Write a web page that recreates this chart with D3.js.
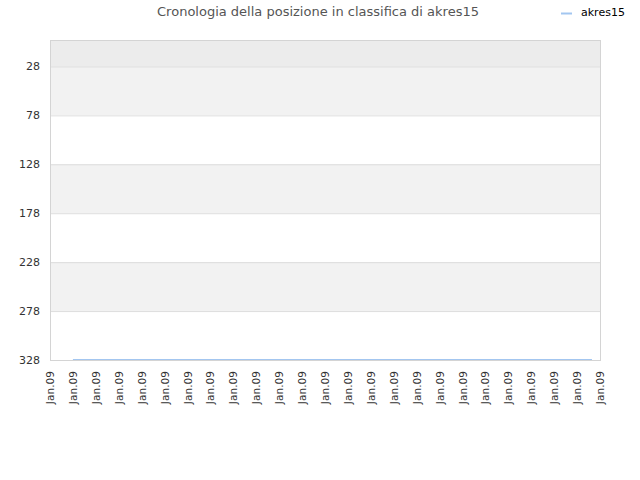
<!DOCTYPE html>
<html>
<head>
<meta charset="utf-8">
<script src="https://cdn.jsdelivr.net/npm/d3@7"></script>
<style>
  body { margin: 0; background: #fff; }
  text { font-family: "DejaVu Sans", sans-serif; }
</style>
</head>
<body>
<div id="chart"></div>
<script>
// x labels along the time axis (all the same day bucket)
const tickLabels = d3.range(25).map(() => "Jan.09");
// series: position in ranking over time (x = tick index)
const seriesX = [1, 23.65];
const seriesRank = [328, 328];
const yTicks = [28, 78, 128, 178, 228, 278, 328];
const seriesName = "akres15";
const title = "Cronologia della posizione in classifica di akres15";

const width = 640, height = 480;
const margin = { top: 40, right: 40, bottom: 120, left: 50 };
const w = width - margin.left - margin.right;
const h = height - margin.top - margin.bottom;

const svg = d3.select("#chart").append("svg")
  .attr("width", width)
  .attr("height", height);

const x = d3.scaleLinear().domain([0, tickLabels.length - 1]).range([0, w]);
const y = d3.scaleLinear().domain([1, 328]).range([0, h]);

const g = svg.append("g").attr("transform", `translate(${margin.left},${margin.top})`);

// alternating bands
const bandEdges = [1].concat(yTicks);
for (let i = 0; i < bandEdges.length - 1; i++) {
  let fill = i === 0 ? "#ececec" : (i % 2 === 1 ? "#f2f2f2" : "#ffffff");
  g.append("rect")
    .attr("x", 0)
    .attr("y", y(bandEdges[i]))
    .attr("width", w)
    .attr("height", y(bandEdges[i + 1]) - y(bandEdges[i]))
    .attr("fill", fill);
}

// grid lines
g.selectAll(".grid").data(yTicks).enter().append("line")
  .attr("x1", 0).attr("x2", w)
  .attr("y1", d => y(d) + 0.5).attr("y2", d => y(d) + 0.5)
  .attr("stroke", "#dddddd");

// frame
g.append("rect")
  .attr("x", 0.5).attr("y", 0.5)
  .attr("width", w).attr("height", h)
  .attr("fill", "none")
  .attr("stroke", "#d4d4d4");

// y labels
g.selectAll(".ylab").data(yTicks).enter().append("text")
  .attr("x", -10)
  .attr("y", d => y(d))
  .attr("dy", "0.35em")
  .attr("text-anchor", "end")
  .attr("font-size", 11)
  .attr("fill", "#333")
  .text(d => d);

// x labels
g.selectAll(".xlab").data(tickLabels).enter().append("text")
  .attr("transform", (d, i) => `translate(${x(i) + 4},${h + 11}) rotate(-90)`)
  .attr("text-anchor", "end")
  .attr("font-size", 10.6)
  .attr("fill", "#333")
  .text(d => d);

// series line
const line = d3.line()
  .x(d => x(d[0]))
  .y(d => y(d[1]) - 0.5);
g.append("path")
  .datum(seriesX.map((v, i) => [v, seriesRank[i]]))
  .attr("d", line)
  .attr("fill", "none")
  .attr("stroke", "#a3c6f0")
  .attr("stroke-width", 1.2);

// title
svg.append("text")
  .attr("x", 318)
  .attr("y", 16)
  .attr("text-anchor", "middle")
  .attr("font-size", 13)
  .attr("fill", "#555")
  .text(title);

// legend
svg.append("line")
  .attr("x1", 561).attr("x2", 572)
  .attr("y1", 13.5).attr("y2", 13.5)
  .attr("stroke", "#a3c6f0")
  .attr("stroke-width", 2);
svg.append("text")
  .attr("x", 581)
  .attr("y", 16)
  .attr("font-size", 11)
  .attr("fill", "#000")
  .text(seriesName);
</script>
</body>
</html>
